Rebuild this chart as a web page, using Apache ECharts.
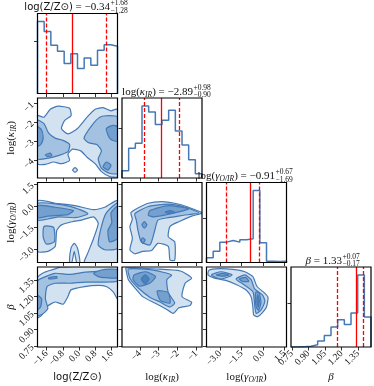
<!DOCTYPE html>
<html>
<head>
<meta charset="utf-8">
<script src="https://cdn.jsdelivr.net/npm/echarts@6/dist/echarts.min.js"></script>
<style>
html, body { margin: 0; padding: 0; background: #fff; }
#chart_main { width: 374px; height: 386px; }
</style>
</head>
<body>
<div id="chart_main"></div>
<script>
// axis limits of the four parameters
var rangeZ = [-2.05, 1.89];
var rangeK = [-4.95, -0.70];
var rangeG = [-3.95, 1.64];
var rangeB = [0.743, 1.467];

// tick values
var ticksZ = [-1.6, -0.8, 0.0, 0.8, 1.6];
var ticksK = [-4, -3, -2, -1];
var ticksG = [-3.0, -1.5, 0.0, 1.5];
var ticksB = [0.75, 0.90, 1.05, 1.20, 1.35];

// 1d histograms (12 bins over the axis range)
var histZ = [217, 187, 145, 127, 90, 120, 75, 107, 85, 130, 147, 142];
var histK = [22, 90, 105, 218, 200, 162, 175, 205, 142, 100, 55, 13];
var histG = [14, 34, 61, 66, 61, 68, 71, 216, 59, 4, 3, 4];
var histB = [0, 1, 2, 7, 18, 35, 60, 82, 68, 102, 217, 90];
var histTick = [157, 150, 134, 132];

// median and 1-sigma errors
var medians = [-0.34, -2.89, -0.91, 1.33];
var errUp = [1.68, 0.98, 0.67, 0.07];
var errDown = [1.28, 0.90, 1.69, 0.17];

// 2d contours: [level, polygon in data units]
var contKZ = [
    [1, [[-2.05,-1.64],[-1.73,-1.72],[-1.42,-1.30],[-1.03,-1.13],[-0.47,-1.25],[-0.40,-1.64],[-0.71,-1.89],[-0.87,-2.32],[-0.55,-2.61],[-0.08,-2.32],[0.39,-1.72],[0.79,-1.30],[1.18,-1.21],[1.57,-1.38],[1.89,-1.30],[1.89,-4.87],[1.50,-4.87],[1.10,-4.61],[0.79,-4.19],[0.39,-3.85],[0.08,-3.51],[-0.32,-3.42],[-0.55,-3.68],[-0.47,-4.02],[-0.87,-4.19],[-1.26,-4.10],[-1.66,-4.23],[-2.05,-4.19]]],
    [1, [[-0.32,-4.53],[-0.20,-4.40],[-0.08,-4.53],[-0.20,-4.65]]],
    [2, [[-2.05,-1.89],[-1.73,-2.06],[-1.50,-2.57],[-1.18,-2.83],[-0.79,-2.95],[-0.47,-3.17],[-0.55,-3.55],[-1.03,-3.76],[-1.50,-3.89],[-2.05,-3.93]]],
    [2, [[0.24,-2.83],[0.63,-2.15],[1.02,-1.72],[1.50,-1.64],[1.89,-1.72],[1.89,-4.70],[1.50,-4.70],[1.10,-4.44],[0.94,-3.93],[1.10,-3.51],[0.87,-3.17],[0.47,-3.08]]],
    [3, [[-2.05,-2.23],[-1.85,-2.40],[-1.77,-2.83],[-1.89,-3.17],[-2.05,-3.25]]],
    [3, [[-1.66,-3.72],[-1.42,-3.63],[-1.34,-3.76],[-1.58,-3.80]]],
    [3, [[1.34,-2.32],[1.65,-2.15],[1.89,-2.23],[1.89,-3.00],[1.57,-2.91],[1.42,-2.66]]],
    [3, [[1.18,-4.36],[1.34,-4.10],[1.57,-4.27],[1.42,-4.53]]]
];
var contGZ = [
    [1, [[-2.05,0.35],[-1.18,0.19],[-0.20,0.02],[0.71,-0.26],[1.26,-0.09],[1.89,0.35],[1.89,-3.95],[0.27,-3.95],[0.43,-3.28],[0.71,-2.27],[0.94,-1.21],[0.71,-0.76],[0.12,-0.99],[-0.36,-1.10],[-0.87,-1.32],[-1.10,-1.71],[-1.18,-2.83],[-1.54,-3.17],[-2.05,-3.17]]],
    [1, [[-0.24,-2.61],[-0.08,-2.94],[0.04,-3.95],[-0.12,-3.95],[-0.24,-3.17],[-0.36,-3.95],[-0.47,-3.95],[-0.40,-2.94]]],
    [2, [[-2.05,0.19],[-0.40,-0.04],[0.43,-0.54],[-0.20,-0.82],[-1.03,-0.76],[-2.05,-0.99]]],
    [2, [[-1.73,-1.43],[-1.26,-1.49],[-1.22,-2.50],[-1.62,-2.66],[-1.77,-2.16]]],
    [2, [[1.89,0.19],[1.34,-0.48],[1.10,-1.43],[0.94,-2.72],[1.26,-3.06],[1.89,-2.94]]],
    [3, [[-2.05,0.02],[-1.18,-0.09],[-0.28,-0.32],[-0.55,-0.60],[-1.54,-0.71],[-2.05,-0.82]]],
    [3, [[1.57,-0.48],[1.89,-0.04],[1.89,-2.27],[1.50,-2.50],[1.42,-1.71],[1.61,-1.16]]]
];
var contGK = [
    [1, [[-4.48,-0.48],[-4.27,-0.26],[-3.55,0.19],[-2.83,0.30],[-2.15,0.19],[-1.42,-0.09],[-0.70,-0.48],[-1.25,-0.71],[-1.93,-1.10],[-2.40,-1.43],[-2.49,-2.16],[-2.15,-2.50],[-2.15,-3.78],[-2.40,-3.78],[-2.49,-2.83],[-3.04,-2.61],[-3.38,-3.11],[-3.85,-3.17],[-4.27,-3.34],[-4.53,-3.06],[-4.40,-2.27],[-4.53,-1.43],[-4.40,-0.93]]],
    [2, [[-4.27,-0.54],[-3.55,-0.04],[-2.49,0.13],[-1.59,-0.09],[-0.87,-0.48],[-1.68,-0.65],[-2.49,-0.82],[-3.04,-0.99],[-3.21,-1.71],[-3.46,-2.72],[-3.93,-2.50],[-4.10,-1.71],[-4.19,-0.99]]],
    [3, [[-3.46,-0.32],[-2.49,0.02],[-1.42,-0.20],[-2.15,-0.48],[-3.25,-0.76],[-3.55,-0.65]]],
    [3, [[-3.76,-1.10],[-3.63,-1.32],[-3.76,-1.55],[-3.89,-1.32]]],
    [3, [[-3.85,-2.22],[-3.72,-2.38],[-3.85,-2.61],[-3.93,-2.38]]],
    [4, [[-2.66,-0.43],[-2.40,-0.32],[-2.15,-0.43],[-2.40,-0.54]]]
];
var contBZ = [
    [1, [[-2.05,1.37],[-1.70,1.42],[-1.18,1.45],[-0.87,1.467],[1.89,1.467],[1.89,1.18],[1.69,1.24],[1.34,1.29],[0.94,1.30],[0.27,1.29],[-0.40,1.26],[-0.55,1.20],[-0.79,1.13],[-1.18,1.15],[-1.58,1.11],[-1.85,1.03],[-2.05,1.01]]],
    [2, [[-2.05,1.34],[-1.66,1.38],[-1.18,1.41],[-0.47,1.40],[0.31,1.42],[1.10,1.43],[1.89,1.43],[1.89,1.34],[1.10,1.33],[0.31,1.33],[-0.47,1.32],[-1.18,1.32],[-1.58,1.29],[-1.66,1.18],[-1.54,1.09],[-1.81,1.04],[-2.05,1.03]]],
    [3, [[0.71,1.41],[1.10,1.44],[1.89,1.445],[1.89,1.37],[1.34,1.37],[0.94,1.38]]],
    [3, [[-2.05,1.21],[-1.85,1.18],[-1.89,1.11],[-2.05,1.08]]],
    [3, [[-1.50,1.37],[-1.10,1.38],[-1.10,1.365],[-1.50,1.36]]]
];
var contBK = [
    [1, [[-4.74,1.46],[-3.12,1.449],[-1.85,1.431],[-1.25,1.366],[-1.59,1.322],[-1.76,1.199],[-1.25,1.148],[-1.34,1.119],[-1.93,1.098],[-2.23,1.047],[-2.57,1.083],[-3.21,1.141],[-3.85,1.199],[-4.27,1.279],[-4.61,1.351],[-4.74,1.445]]],
    [2, [[-4.61,1.449],[-3.29,1.438],[-2.32,1.395],[-2.57,1.351],[-2.49,1.235],[-2.15,1.141],[-2.40,1.105],[-2.91,1.148],[-3.46,1.192],[-4.10,1.279],[-4.53,1.366]]],
    [3, [[-4.31,1.395],[-3.68,1.424],[-3.17,1.380],[-3.46,1.322],[-4.02,1.293],[-4.36,1.351]]],
    [3, [[-3.08,1.250],[-2.49,1.235],[-2.40,1.141],[-2.91,1.163]]],
    [4, [[-3.93,1.358],[-3.72,1.395],[-3.51,1.358],[-3.72,1.315]]]
];
var contBG = [
    [1, [[-3.78,1.438],[-3.06,1.452],[-2.11,1.445],[-1.27,1.424],[-0.71,1.380],[-0.43,1.293],[0.13,1.228],[0.35,1.192],[0.24,1.105],[-0.09,1.047],[-0.37,1.018],[-0.65,1.033],[-0.71,1.105],[-0.82,1.192],[-1.16,1.257],[-1.88,1.308],[-2.55,1.344],[-3.39,1.366],[-3.84,1.395]]],
    [2, [[-3.61,1.395],[-2.94,1.424],[-2.16,1.395],[-2.94,1.358]]],
    [2, [[-1.88,1.358],[-1.27,1.395],[-0.82,1.351],[-0.60,1.271],[-0.04,1.214],[0.13,1.156],[-0.15,1.076],[-0.48,1.047],[-0.60,1.141],[-0.71,1.243],[-1.43,1.315]]],
    [3, [[-3.28,1.395],[-2.83,1.409],[-2.38,1.395],[-2.83,1.384]]],
    [3, [[-1.66,1.358],[-1.21,1.373],[-0.99,1.337],[-1.43,1.337]]],
    [3, [[-0.48,1.243],[-0.26,1.228],[-0.15,1.141],[-0.32,1.076],[-0.48,1.105],[-0.54,1.199]]],
    [4, [[-0.37,1.214],[-0.26,1.163],[-0.34,1.105],[-0.43,1.163]]]
];

var myChart = echarts.init(document.getElementById('chart_main'));

var lineColor = '#4479b5';
var levelFill = ['#d3e2f1', '#a3c1e0', '#74a0cf', '#4a82bf'];
var serif = 'Liberation Serif';
var ink = '#111';

// layout of the corner grid
var L0 = 37.5, T0 = 13.5, STEP = 84.5, SIZE = 80;
var titleSplit = [110, 193, 275, 342];

var params = [
    {range: rangeZ, ticks: ticksZ, dec: 1, hist: histZ},
    {range: rangeK, ticks: ticksK, dec: 0, hist: histK},
    {range: rangeG, ticks: ticksG, dec: 1, hist: histG},
    {range: rangeB, ticks: ticksB, dec: 2, hist: histB}
];
var contours = {'1_0': contKZ, '2_0': contGZ, '2_1': contGK, '3_0': contBZ, '3_1': contBK, '3_2': contBG};

function fmt(dec) {
    return function (v) { return v.toFixed(dec).replace('-', '\u2212'); };
}
function minus(v, dec) { return v.toFixed(dec).replace('-', '\u2212'); }

function tickOpt(vals) {
    return {show: true, length: 3.5, customValues: vals, lineStyle: {color: '#000', width: 0.8}};
}
function labelOpt(show, vals, dec) {
    return {show: show, customValues: vals, rotate: 45, margin: 5, showMinLabel: true, showMaxLabel: true,
        hideOverlap: false, fontSize: 9.5, fontFamily: serif, color: ink, formatter: fmt(dec)};
}
var noLine = {show: false, onZero: false};

function contourSeries(gi, polys) {
    return {
        type: 'custom', xAxisIndex: gi, yAxisIndex: gi, silent: true, clip: true,
        data: polys.map(function (p, i) { return [p[1][0][0], p[1][0][1], i]; }),
        encode: {x: 0, y: 1},
        renderItem: function (info, api) {
            var p = polys[info.dataIndex];
            var pts = p[1].map(function (q) { return api.coord(q); });
            return {
                type: 'polygon',
                shape: {points: pts, smooth: 0.2},
                style: {fill: levelFill[p[0] - 1], stroke: lineColor, lineWidth: 1.2}
            };
        }
    };
}

var grids = [], xAxes = [], yAxes = [], series = [], graphics = [];

for (var r = 0; r < 4; r++) {
    for (var c = 0; c <= r; c++) {
        var gi = grids.length;
        var gLeft = L0 + c * STEP, gTop = T0 + r * STEP;
        grids.push({left: gLeft, top: gTop, width: SIZE, height: SIZE});
        graphics.push({type: 'rect', z: 100, silent: true,
            shape: {x: gLeft, y: gTop, width: SIZE, height: SIZE},
            style: {fill: 'none', stroke: '#000', lineWidth: 1.2}});
        var px = params[c];
        xAxes.push({
            gridIndex: gi, type: 'value', min: px.range[0], max: px.range[1],
            axisLine: noLine, splitLine: {show: false},
            axisTick: tickOpt(px.ticks), axisLabel: labelOpt(r === 3, px.ticks, px.dec)
        });
        if (r === c) {
            var hmax = Math.max.apply(null, px.hist) * 1.11;
            yAxes.push({
                gridIndex: gi, type: 'value', min: 0, max: hmax,
                axisLine: noLine, splitLine: {show: false},
                axisTick: tickOpt([histTick[c]]), axisLabel: {show: false}
            });
            var n = px.hist.length, lo = px.range[0], w = (px.range[1] - lo) / n;
            var d = [[lo, 0]];
            px.hist.forEach(function (h, i) { d.push([lo + i * w, h]); });
            d.push([px.range[1], px.hist[n - 1]]);
            d.push([px.range[1], 0]);
            var med = medians[c];
            series.push({
                type: 'line', step: 'end', xAxisIndex: gi, yAxisIndex: gi, data: d,
                symbol: 'none', silent: true, lineStyle: {color: lineColor, width: 1.5},
                markLine: {
                    symbol: 'none', silent: true, label: {show: false},
                    data: [
                        {xAxis: med - errDown[c], lineStyle: {type: [4, 2], color: '#ff0000', width: 1.3}},
                        {xAxis: med, lineStyle: {type: 'solid', color: '#ff0000', width: 1.3}},
                        {xAxis: med + errUp[c], lineStyle: {type: [4, 2], color: '#ff0000', width: 1.3}}
                    ]
                }
            });
        } else {
            var py = params[r];
            yAxes.push({
                gridIndex: gi, type: 'value', min: py.range[0], max: py.range[1],
                axisLine: noLine, splitLine: {show: false},
                axisTick: tickOpt(py.ticks), axisLabel: labelOpt(c === 0, py.ticks, py.dec)
            });
            var polys = contours[r + '_' + c].slice().sort(function (a, b) { return a[0] - b[0]; });
            series.push(contourSeries(gi, polys));
        }
    }
}

// text: titles and axis names
function richStyles() {
    return {
        m: {fontFamily: serif, fontSize: 11, lineHeight: 14, color: ink},
        a: {fontFamily: 'DejaVu Sans', fontSize: 10, lineHeight: 14, color: ink},
        i: {fontFamily: serif, fontStyle: 'italic', fontSize: 11, lineHeight: 14, color: ink},
        s: {fontFamily: serif, fontStyle: 'italic', fontSize: 7.5, lineHeight: 6, verticalAlign: 'bottom', color: ink}
    };
}
var names = ['{a|log(Z/Z\u2299)}', '{m|log(}{i|\u03ba}{s|IR}{m|)}', '{m|log(}{i|\u03b3}{s|O/IR}{m|)}', '{i|\u03b2}'];

function txt(x, y, text, align, rot) {
    return {type: 'text', x: x, y: y, rotation: rot || 0, silent: true, z: 110,
        style: {text: text, rich: richStyles(), align: align, textAlign: align,
            verticalAlign: 'middle', textVerticalAlign: 'middle', fill: ink,
            fontFamily: serif, fontSize: 11}};
}
function small(x, y, text) {
    return {type: 'text', x: x, y: y, silent: true, z: 110,
        style: {text: text, fontFamily: serif, fontSize: 7.5, fill: ink,
            align: 'left', textAlign: 'left', verticalAlign: 'middle', textVerticalAlign: 'middle'}};
}

for (var k = 0; k < 4; k++) {
    var pTop = T0 + k * STEP, cx = L0 + k * STEP + SIZE / 2;
    graphics.push(txt(titleSplit[k], pTop - 6, names[k] + '{m| = ' + minus(medians[k], 2) + '}', 'right'));
    graphics.push(small(titleSplit[k] + 0.5, pTop - 10, '+' + errUp[k].toFixed(2)));
    graphics.push(small(titleSplit[k] + 0.5, pTop - 2.5, '\u2212' + errDown[k].toFixed(2)));
    graphics.push(txt(cx, 377, names[k], 'center'));
    if (k > 0) {
        graphics.push(txt(11, pTop + SIZE / 2, names[k], 'center', Math.PI / 2));
    }
}

var option = {
    animation: false,
    backgroundColor: '#fff',
    grid: grids,
    xAxis: xAxes,
    yAxis: yAxes,
    series: series,
    graphic: graphics
};
myChart.setOption(option);
</script>
</body>
</html>
